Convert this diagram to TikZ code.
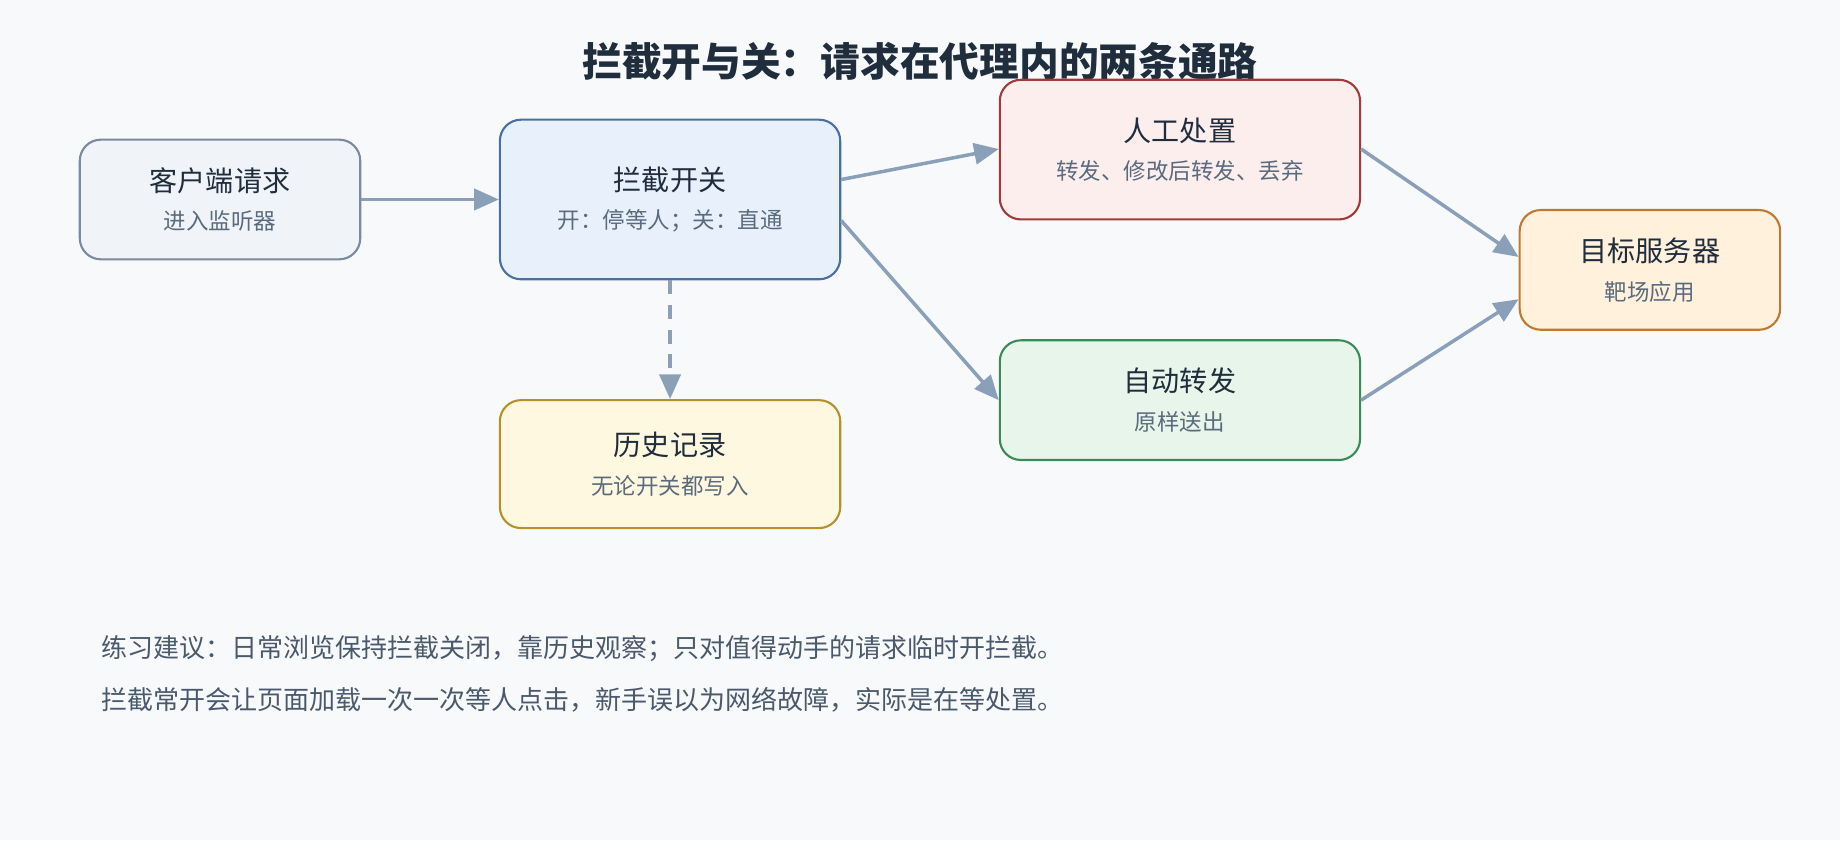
\documentclass[tikz,border=0pt]{standalone}
\usepackage{fontspec}
\setmainfont{Noto Sans CJK SC}
\usetikzlibrary{positioning,calc,arrows.meta}
\definecolor{bg}{HTML}{F8F9FB}
\definecolor{ink}{HTML}{1F2D3D}
\definecolor{sub}{HTML}{5A6B7D}
\definecolor{note}{HTML}{4A5A6C}
\definecolor{arr}{HTML}{8AA0B8}
\definecolor{clientD}{HTML}{7A8AA0}\definecolor{clientF}{HTML}{F0F4F8}
\definecolor{swD}{HTML}{4A6FA5}\definecolor{swF}{HTML}{E8F0FC}
\definecolor{manD}{HTML}{A33A3A}\definecolor{manF}{HTML}{FDEEEE}
\definecolor{autoD}{HTML}{3A8A5A}\definecolor{autoF}{HTML}{E8F5EA}
\definecolor{histD}{HTML}{B8902A}\definecolor{histF}{HTML}{FFF8E1}
\definecolor{tgtD}{HTML}{C07A30}\definecolor{tgtF}{HTML}{FFF1DC}
\tikzset{
  box/.style={draw, rounded corners=6pt, line width=0.6pt, align=center, inner sep=0pt},
  arw/.style={draw=arr, line width=1pt, -{Triangle[length=7pt,width=6pt]}},
  notetxt/.style={anchor=west, inner sep=0pt, text=note, font=\fontsize{7.4pt}{8pt}\selectfont},
}
\newcommand{\boxtxt}[2]{{\fontsize{8pt}{9pt}\selectfont\color{ink}#1}\\[-1pt]{\fontsize{6.4pt}{7pt}\selectfont\color{sub}#2}}
\begin{document}
\begin{tikzpicture}[x=0.011735cm, y=-0.011735cm]
   \fill[bg] (0,0) rectangle (1568,716);
   \useasboundingbox (0,0) rectangle (1568,716);
   \node[font=\bfseries\fontsize{11.3pt}{12pt}\selectfont, text=ink] (title) at (784,52) {拦截开与关：请求在代理内的两条通路};
   % boxes
   \node[box, draw=clientD, fill=clientF, minimum width=239*0.011735cm, minimum height=102*0.011735cm] (client) at (187.5,170) {\boxtxt{客户端请求}{进入监听器}};
   \node[box, draw=swD, fill=swF, minimum width=290*0.011735cm, minimum height=136*0.011735cm] (sw) at (571,170) {\boxtxt{拦截开关}{开：停等人；关：直通}};
   \node[box, draw=manD, fill=manF, minimum width=307*0.011735cm, minimum height=119*0.011735cm] (manual) at (1005.5,127.5) {\boxtxt{人工处置}{转发、修改后转发、丢弃}};
   \node[box, draw=autoD, fill=autoF, minimum width=307*0.011735cm, minimum height=102*0.011735cm] (auto) at (1005.5,341) {\boxtxt{自动转发}{原样送出}};
   \node[box, draw=histD, fill=histF, minimum width=290*0.011735cm, minimum height=109*0.011735cm] (hist) at (571,395.5) {\boxtxt{历史记录}{无论开关都写入}};
   \node[box, draw=tgtD, fill=tgtF, minimum width=222*0.011735cm, minimum height=102*0.011735cm] (target) at (1406,230) {\boxtxt{目标服务器}{靶场应用}};
   % connectors
   \draw[arw] (client.east) -- (sw.west);
   \draw[arw] ($(sw.east)+(0,-17)$) -- ($(manual.west)+(0,-0.5)$);
   \draw[arw] ($(sw.east)+(0,18)$) -- (auto.west);
   \draw[arw, dash pattern=on 4pt off 3pt] (sw.south) -- (hist.north);
   \draw[arw] ($(manual.east)+(0,-0.5)$) -- ($(target.west)+(0,-11)$);
   \draw[arw] (auto.east) -- ($(target.west)+(0,25)$);
   % notes
   \node[notetxt] (n1) at (86,553) {练习建议：日常浏览保持拦截关闭，靠历史观察；只对值得动手的请求临时开拦截。};
   \node[notetxt] (n2) at (86,596) {拦截常开会让页面加载一次一次等人点击，新手误以为网络故障，实际是在等处置。};
\end{tikzpicture}
\end{document}
